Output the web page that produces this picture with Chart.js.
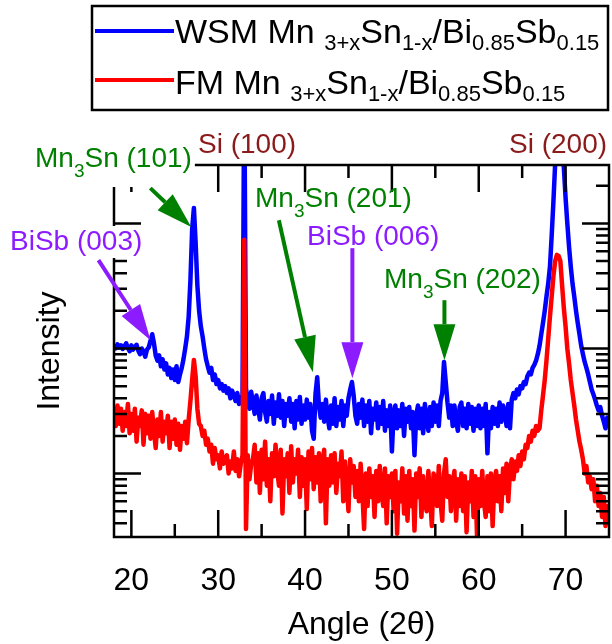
<!DOCTYPE html>
<html>
<head>
<meta charset="utf-8">
<script src="https://cdn.jsdelivr.net/npm/chart.js@4.4.0/dist/chart.umd.min.js"></script>
<style>
  html, body { margin: 0; padding: 0; background: #fff; }
  canvas { display: block; }
</style>
</head>
<body>
<canvas id="xrd" width="612" height="644"></canvas>
<script>
// 2θ scan: start angle and step (degrees)
const scanStart = 18.0;
const scanStep = 0.2;

// Series names; {..} marks a subscript
const seriesNames = [
  'WSM Mn {3+x}Sn{1-x}/Bi{0.85}Sb{0.15}',
  'FM Mn {3+x}Sn{1-x}/Bi{0.85}Sb{0.15}'
];

// WSM film intensity (counts), one row per degree: x.0 x.2 x.4 x.6 x.8
const wsmCounts = [
  1050, 1000, 1080, 1020, 1060,   // 18
  990, 1040, 1100, 1010, 950,     // 19
  1060, 980, 1030, 1070, 960,     // 20
  900, 1000, 940, 860, 980,       // 21
  1020, 1150, 1300, 1100, 880,    // 22
  800, 880, 720, 820, 680,        // 23
  760, 620, 700, 580, 680,        // 24
  560, 720, 540, 620, 700,        // 25
  820, 1000, 1250, 1800, 3500,    // 26
  9000, 13300, 7000, 3200, 2000,  // 27
  1500, 1250, 1000, 820, 720,     // 28
  640, 700, 560, 620, 520,        // 29
  560, 480, 520, 460, 500,        // 30
  440, 480, 400, 460, 420,        // 31
  380, 440, 360, 400, 420,        // 32
  150000, 480, 380, 330, 450,     // 33
  360, 300, 420, 330, 270,        // 34
  400, 440, 310, 260, 380,        // 35
  300, 420, 250, 370, 290,        // 36
  430, 280, 380, 240, 360,        // 37
  290, 400, 260, 360, 230,        // 38
  380, 270, 410, 250, 350,        // 39
  270, 390, 280, 360, 220,        // 40
  190, 430, 590, 350, 280,        // 41
  360, 260, 390, 280, 230,        // 42
  350, 250, 400, 240, 340,        // 43
  270, 380, 240, 350, 290,        // 44
  400, 470, 540, 420, 290,        // 45
  250, 360, 280, 390, 240,        // 46
  350, 260, 380, 210, 330,        // 47
  270, 370, 230, 340, 250,        // 48
  380, 220, 320, 240, 350,        // 49
  150, 300, 350, 230, 320,        // 50
  240, 360, 200, 330, 260,        // 51
  340, 230, 310, 140, 290,        // 52
  350, 230, 330, 210, 360,        // 53
  270, 220, 340, 240, 370,        // 54
  260, 350, 240, 380, 440,        // 55
  780, 540, 370, 280, 350,        // 56
  240, 350, 260, 220, 340,        // 57
  370, 240, 330, 230, 360,        // 58
  250, 340, 220, 330, 240,        // 59
  350, 230, 330, 240, 360,        // 60
  145, 310, 230, 340, 250,        // 61
  330, 240, 370, 260, 350,        // 62
  310, 240, 360, 230, 390,        // 63
  440, 400, 470, 430, 500,        // 64
  480, 540, 520, 600, 640,        // 65
  620, 700, 740, 800, 900,        // 66
  1050, 1300, 1600, 2000, 2600,   // 67
  3300, 4500, 8000, 15000, 30000, // 68
  60000, 90000, 70000, 45000, 28000, // 69
  16000, 10000, 6500, 4500, 3300, // 70
  2600, 2000, 1600, 1300, 1050,   // 71
  900, 780, 700, 620, 540,        // 72
  470, 430, 390, 350, 320,        // 73
  340, 290, 260, 230, 280,        // 74
  250                             // 75
];

// FM film intensity (counts), same grid
const fmCounts = [
  320, 240, 350, 250, 330,        // 18
  220, 310, 240, 360, 210,        // 19
  300, 220, 330, 180, 280,        // 20
  240, 320, 170, 300, 210,        // 21
  290, 190, 310, 220, 160,        // 22
  270, 200, 310, 180, 260,        // 23
  210, 290, 160, 260, 190,        // 24
  270, 170, 250, 155, 240,        // 25
  190, 260, 175, 270, 380,        // 26
  560, 810, 600, 330, 250,        // 27
  240, 200, 220, 170, 190,        // 28
  150, 170, 120, 160, 130,        // 29
  140, 110, 150, 120, 130,        // 30
  140, 100, 125, 110, 150,        // 31
  105, 130, 95, 120, 140,         // 32
  7400, 36, 140, 90, 120,         // 33
  130, 170, 85, 145, 70,          // 34
  155, 90, 180, 80, 130,          // 35
  60, 145, 95, 170, 105,          // 36
  80, 155, 48, 130, 95,           // 37
  145, 70, 165, 85, 130,          // 38
  100, 155, 65, 135, 80,          // 39
  130, 52, 150, 90, 160,          // 40
  75, 135, 85, 145, 60,           // 41
  120, 155, 40, 130, 80,          // 42
  140, 85, 145, 70, 120,          // 43
  95, 150, 60, 125, 80,           // 44
  50, 130, 85, 115, 65,           // 45
  105, 60, 120, 70, 36,           // 46
  100, 55, 110, 65, 95,           // 47
  45, 105, 60, 115, 70,           // 48
  55, 110, 40, 95, 65,            // 49
  100, 50, 105, 33, 85,           // 50
  60, 110, 48, 95, 42,            // 51
  105, 55, 90, 35, 100,           // 52
  65, 110, 45, 95, 60,            // 53
  50, 105, 65, 38, 100,           // 54
  90, 55, 115, 60, 42,            // 55
  100, 130, 65, 95, 50,           // 56
  85, 105, 42, 90, 55,            // 57
  100, 50, 95, 34, 85,            // 58
  60, 105, 45, 95, 32,            // 59
  90, 55, 105, 60, 45,            // 60
  95, 50, 100, 38, 85,            // 61
  105, 60, 95, 50, 110,           // 62
  70, 120, 60, 105, 130,          // 63
  90, 125, 105, 140, 115,         // 64
  150, 130, 170, 160, 200,        // 65
  180, 220, 200, 240, 220,        // 66
  230, 320, 420, 560, 800,        // 67
  1200, 1800, 2600, 3800, 5000,   // 68
  5600, 5500, 5000, 3200, 2100,   // 69
  1500, 1000, 760, 560, 440,      // 70
  350, 270, 220, 180, 155,        // 71
  130, 100, 115, 85, 95,          // 72
  75, 90, 60, 80, 55,             // 73
  70, 45, 65, 38, 55,             // 74
  50                              // 75
];

// Axis ticks
const angleTicks = [20, 30, 40, 50, 60, 70];
const angleMinorTicks = [25, 35, 45, 55, 65, 75];
const intensityDecades = [10, 100, 1000, 10000];

// Reflection names; {..} marks a subscript
const peakNames = [
  'Mn{3}Sn (101)', 'Si (100)', 'Si (200)', 'BiSb (003)',
  'Mn{3}Sn (201)', 'BiSb (006)', 'Mn{3}Sn (202)'
];

// ---- styling / layout ----
const FONT = '"Liberation Sans", Arial, Helvetica, sans-serif';
const BLUE = '#0000ff', RED = '#ff0000';
const GREEN = '#008000', PURPLE = '#8c1cff', SI_RED = '#8b1a1a';

// Callouts: text anchor (px, left/baseline), arrow tip in data space, arrow tail offset (px)
const callouts = [
  { name: 0, color: GREEN,  text: [35, 167],  box: true, tip: [26.9, 9340], tail: [-41, -39] },
  { name: 1, color: SI_RED, text: [198, 153] },
  { name: 2, color: SI_RED, text: [509, 153] },
  { name: 3, color: PURPLE, text: [10, 250],  box: true, tip: [22.2, 1165], tail: [-52, -80] },
  { name: 4, color: GREEN,  text: [255, 207], tip: [40.9, 646], tail: [-34, -152] },
  { name: 5, color: PURPLE, text: [307, 245], tip: [45.45, 579], tail: [0, -130] },
  { name: 6, color: GREEN,  text: [384, 288], tip: [56.05, 806], tail: [0, -60] }
];

const labelFont = { main: `28px ${FONT}`, sub: `19px ${FONT}`, shift: 10 };
const legendFont = { main: `34px ${FONT}`, sub: `22px ${FONT}`, shift: 7 };

function parseRich(s) {
  const runs = [];
  const re = /([^{]+)|\{([^}]*)\}/g;
  let m;
  while ((m = re.exec(s))) {
    runs.push(m[1] !== undefined ? { t: m[1], sub: false } : { t: m[2], sub: true });
  }
  return runs;
}

function richWidth(ctx, runs, f) {
  let w = 0;
  for (const r of runs) { ctx.font = r.sub ? f.sub : f.main; w += ctx.measureText(r.t).width; }
  return w;
}

function drawRich(ctx, runs, x, y, f) {
  ctx.textBaseline = 'alphabetic';
  ctx.textAlign = 'left';
  for (const r of runs) {
    ctx.font = r.sub ? f.sub : f.main;
    ctx.fillText(r.t, x, y + (r.sub ? f.shift : 0));
    x += ctx.measureText(r.t).width;
  }
}

function drawArrow(ctx, x0, y0, x1, y1, color) {
  const a = Math.atan2(y1 - y0, x1 - x0);
  const L = 36, W = 11;
  const bx = x1 - L * Math.cos(a), by = y1 - L * Math.sin(a);
  ctx.strokeStyle = color;
  ctx.fillStyle = color;
  ctx.lineWidth = 4;
  ctx.lineCap = 'butt';
  ctx.beginPath();
  ctx.moveTo(x0, y0);
  ctx.lineTo(bx, by);
  ctx.stroke();
  ctx.beginPath();
  ctx.moveTo(x1, y1);
  ctx.lineTo(bx - W * Math.sin(a), by + W * Math.cos(a));
  ctx.lineTo(bx + W * Math.sin(a), by - W * Math.cos(a));
  ctx.closePath();
  ctx.fill();
}

const MAJOR = 27, MINOR = 13;

// Frame with inward ticks on all four sides
const framePlugin = {
  id: 'frame',
  afterDatasetsDraw(chart) {
    const { ctx, chartArea: a, scales: { x, y } } = chart;
    ctx.save();
    ctx.strokeStyle = '#000';
    ctx.lineWidth = 2.5;
    ctx.lineCap = 'butt';
    ctx.beginPath();
    const xt = (v, len) => {
      const px = x.getPixelForValue(v);
      ctx.moveTo(px, a.bottom); ctx.lineTo(px, a.bottom - len);
      ctx.moveTo(px, a.top); ctx.lineTo(px, a.top + len);
    };
    angleTicks.forEach(v => xt(v, MAJOR));
    angleMinorTicks.forEach(v => { if (v < x.max) xt(v, MINOR); });
    for (const d of intensityDecades) {
      for (let m = 1; m <= 9; m++) {
        const v = m * d;
        if (v < y.min || v > y.max) continue;
        const py = y.getPixelForValue(v);
        const len = m === 1 ? MAJOR : MINOR;
        ctx.moveTo(a.left, py); ctx.lineTo(a.left + len, py);
        ctx.moveTo(a.right, py); ctx.lineTo(a.right - len, py);
      }
    }
    ctx.stroke();
    ctx.strokeRect(a.left, a.top, a.right - a.left, a.bottom - a.top);
    ctx.restore();
  },
  afterDraw(chart) {
    const { ctx, scales: { x, y } } = chart;
    ctx.save();

    // legend
    ctx.strokeStyle = '#000';
    ctx.lineWidth = 2.5;
    ctx.strokeRect(92, 6, 516, 104);
    const rows = [{ c: BLUE, ly: 31, by: 43 }, { c: RED, ly: 80, by: 94 }];
    rows.forEach((r, i) => {
      ctx.strokeStyle = r.c;
      ctx.lineWidth = 4;
      ctx.beginPath();
      ctx.moveTo(95, r.ly); ctx.lineTo(174, r.ly);
      ctx.stroke();
      ctx.fillStyle = '#000';
      drawRich(ctx, parseRich(seriesNames[i]), 175, r.by, legendFont);
    });

    // reflection callouts
    for (const c of callouts) {
      const runs = parseRich(peakNames[c.name]);
      const w = richWidth(ctx, runs, labelFont);
      const hasSub = runs.some(r => r.sub);
      if (c.box) {
        ctx.fillStyle = '#fff';
        ctx.fillRect(c.text[0] - 3, c.text[1] - 24, w + 6, hasSub ? 44 : 32);
      }
      ctx.fillStyle = c.color;
      drawRich(ctx, runs, c.text[0], c.text[1], labelFont);
      if (c.tip) {
        const tx = x.getPixelForValue(c.tip[0]);
        const ty = y.getPixelForValue(c.tip[1]);
        drawArrow(ctx, tx + c.tail[0], ty + c.tail[1], tx, ty, c.color);
      }
    }
    ctx.restore();
  }
};

const toPoints = counts => counts.map((c, i) => ({ x: scanStart + i * scanStep, y: c }));

new Chart(document.getElementById('xrd'), {
  type: 'line',
  data: {
    datasets: [
      { label: 'WSM', data: toPoints(wsmCounts), borderColor: BLUE, borderWidth: 4.5, order: 2 },
      { label: 'FM', data: toPoints(fmCounts), borderColor: RED, borderWidth: 4.5, order: 1 }
    ]
  },
  options: {
    responsive: false,
    animation: false,
    events: [],
    layout: { padding: { top: 165, right: 3, left: 0, bottom: 0 } },
    elements: {
      point: { radius: 0 },
      line: { tension: 0, borderJoinStyle: 'round', fill: false }
    },
    plugins: { legend: { display: false }, tooltip: { enabled: false } },
    scales: {
      x: {
        type: 'linear',
        min: 18,
        max: 75,
        grid: { display: false },
        border: { display: false },
        afterBuildTicks: s => { s.ticks = angleTicks.map(v => ({ value: v })); },
        afterFit: s => { s.height = 107; },
        ticks: {
          autoSkip: false,
          maxRotation: 0,
          padding: 17,
          color: '#000',
          font: { family: FONT, size: 32 }
        },
        title: {
          display: true,
          text: 'Angle (2θ)',
          color: '#000',
          font: { family: FONT, size: 32 },
          padding: { top: 0, bottom: 0 }
        }
      },
      y: {
        type: 'logarithmic',
        min: 31.1,
        max: 29300,
        grid: { display: false },
        border: { display: false },
        ticks: { display: false },
        afterFit: s => { s.width = 114; },
        title: {
          display: true,
          text: 'Intensity',
          color: '#000',
          font: { family: FONT, size: 32 },
          padding: { top: 31, bottom: 0 }
        }
      }
    }
  },
  plugins: [framePlugin]
});
</script>
</body>
</html>
